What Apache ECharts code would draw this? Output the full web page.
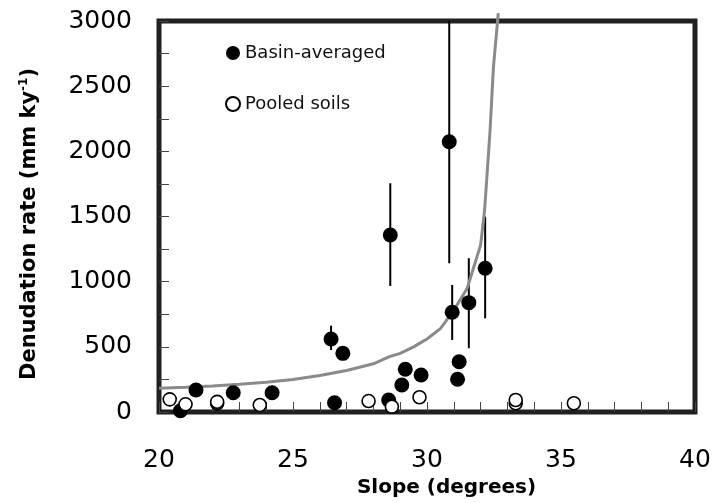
<!DOCTYPE html>
<html>
<head>
<meta charset="utf-8">
<script src="https://cdn.jsdelivr.net/npm/echarts@6/dist/echarts.min.js"></script>
<style>
  html, body { margin: 0; padding: 0; background: #fff; }
  #chart { width: 717px; height: 503px; }
</style>
</head>
<body>
<div id="chart"></div>
<script>
// basin-averaged samples (filled dots)
const basinSlope = [20.80, 21.38, 22.77, 24.22, 26.42, 26.86, 26.55, 28.63, 28.57, 29.06, 29.19, 29.78, 30.83, 30.94, 31.56, 32.17, 31.20, 31.14];
const basinRate  = [10, 169, 148, 148, 560, 450, 71, 1358, 92, 207, 328, 284, 2074, 765, 839, 1103, 386, 251];

// pooled soils (open dots)
const soilSlope = [20.40, 20.99, 22.17, 22.17, 23.76, 27.82, 28.69, 29.72, 33.31, 33.31, 35.48];
const soilRate  = [97, 59, 67, 78, 54, 84, 41, 113, 67, 92, 67];

// error bars on basin samples
const errSlope = [26.42, 28.63, 30.83, 30.94, 31.56, 32.17];
const errLow   = [476, 967, 1141, 553, 489, 719];
const errHigh  = [662, 1755, 3000, 975, 1180, 1499];

// fitted curve
const curveSlope = [20, 21, 22, 23, 24, 25, 26, 27, 28, 28.6, 29, 29.5, 30, 30.5, 31, 31.5, 32, 32.15, 32.25, 32.35, 32.48, 32.66];
const curveRate  = [182, 190, 200, 213, 228, 250, 280, 318, 370, 425, 450, 500, 560, 640, 780, 950, 1280, 1550, 1850, 2150, 2650, 3060];

const FONT = 'DejaVu Sans';
const FRAME = '#231f20';

let myChart = echarts.init(document.getElementById('chart'));
myChart.setOption({
  animation: false,
  textStyle: { fontFamily: FONT },
  grid: {
    left: 159, right: 22, top: 21, bottom: 91,
    show: true,
    borderWidth: 5,
    borderColor: FRAME
  },
  legend: {
    data: ['Basin-averaged', 'Pooled soils'],
    orient: 'vertical',
    left: 220,
    top: 39,
    itemGap: 33,
    itemWidth: 14,
    itemHeight: 14,
    textStyle: { fontFamily: FONT, fontSize: 18, color: '#111' }
  },
  xAxis: {
    type: 'value',
    min: 20, max: 40, interval: 5,
    axisLine: { show: false },
    axisTick: { show: true, inside: true, length: 10, lineStyle: { color: '#444', width: 1 } },
    minorTick: { show: true, splitNumber: 5, length: 10, lineStyle: { color: '#444', width: 1 } },
    splitLine: { show: false },
    axisLabel: { fontFamily: FONT, fontSize: 25, color: '#000', margin: 36 },
    name: 'Slope (degrees)',
    nameLocation: 'middle',
    nameGap: 64,
    nameTextStyle: { fontFamily: FONT, fontSize: 20, fontWeight: 'bold', color: '#000', padding: [0, 0, 0, 39] }
  },
  yAxis: {
    type: 'value',
    min: 0, max: 3000, interval: 500,
    axisLine: { show: false },
    axisTick: { show: true, inside: true, length: 10, lineStyle: { color: '#444', width: 1 } },
    minorTick: { show: true, splitNumber: 2, length: 10, lineStyle: { color: '#444', width: 1 } },
    splitLine: { show: false },
    axisLabel: {
      fontFamily: FONT, fontSize: 25, color: '#000', margin: 27,
      formatter: function (v) { return String(v); }
    },
    name: '{a|Denudation rate (mm ky}{s|-1}{a|)}',
    nameLocation: 'middle',
    nameGap: 117,
    nameTextStyle: {
      padding: [0, 15, 0, 0],
      rich: {
        a: { fontFamily: FONT, fontSize: 21, fontWeight: 'bold', color: '#000', lineHeight: 24 },
        s: { fontFamily: FONT, fontSize: 12, fontWeight: 'bold', color: '#000', lineHeight: 24, verticalAlign: 'top' }
      }
    }
  },
  series: [
    {
      name: 'errors',
      type: 'custom',
      z: 2,
      clip: true,
      data: errSlope.map((s, i) => [s, errLow[i], errHigh[i]]),
      encode: { x: 0, y: [1, 2] },
      renderItem: function (params, api) {
        const p1 = api.coord([api.value(0), api.value(1)]);
        const p2 = api.coord([api.value(0), api.value(2)]);
        return {
          type: 'line',
          shape: { x1: p1[0], y1: p1[1], x2: p2[0], y2: p2[1] },
          style: { stroke: '#000', lineWidth: 2 }
        };
      }
    },
    {
      name: 'fit',
      type: 'line',
      z: 3,
      clip: false,
      showSymbol: false,
      smooth: false,
      data: curveSlope.map((s, i) => [s, curveRate[i]]),
      lineStyle: { color: '#8a8a8a', width: 3 }
    },
    {
      name: 'Basin-averaged',
      type: 'scatter',
      z: 4,
      symbol: 'circle',
      symbolSize: 15,
      data: basinSlope.map((s, i) => [s, basinRate[i]]),
      itemStyle: { color: '#000', opacity: 1 }
    },
    {
      name: 'Pooled soils',
      type: 'scatter',
      z: 5,
      symbol: 'circle',
      symbolSize: 13,
      data: soilSlope.map((s, i) => [s, soilRate[i]]),
      itemStyle: { color: '#fff', borderColor: '#000', borderWidth: 1.6, opacity: 1 }
    }
  ]
});
</script>
</body>
</html>
